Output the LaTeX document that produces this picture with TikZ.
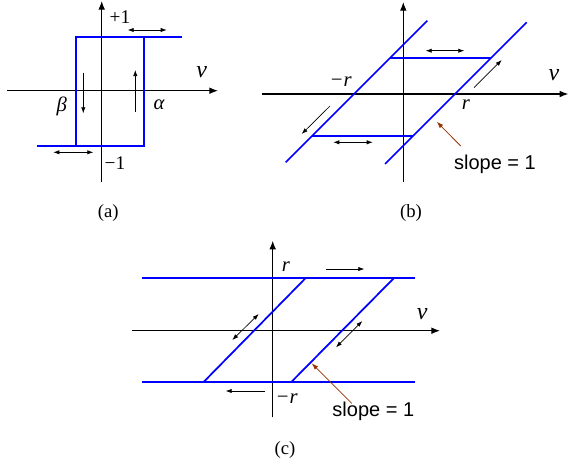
\documentclass[tikz,border=0pt]{standalone}
\usepackage{fontspec}
\setmainfont{Liberation Serif}
\newfontfamily\sansf{Liberation Sans}
\usetikzlibrary{arrows.meta}
\definecolor{curveblue}{RGB}{0,0,255}
\definecolor{notebrown}{RGB}{153,51,0}
\begin{document}
\begin{tikzpicture}[x=0.75pt,y=-0.75pt,
 axis/.style={line width=0.8pt,-{Latex[length=6.5pt,width=5pt]}},
 curve/.style={curveblue,line width=1.3pt},
 motion/.style={line width=0.5pt,-{Latex[length=4.5pt,width=3.2pt]}},
 bimotion/.style={line width=0.5pt,{Latex[length=4.5pt,width=3.2pt]}-{Latex[length=4.5pt,width=3.2pt]}},
 pointer/.style={notebrown,line width=0.6pt,-{Latex[length=5pt,width=3.5pt]}},
 lbl/.style={inner sep=0pt,font=\fontsize{14.5}{17}\selectfont},
 mlbl/.style={inner sep=0pt,font=\fontsize{15.5}{18}\selectfont\itshape},
 vlbl/.style={inner sep=0pt,font=\fontsize{18}{20}\selectfont\itshape},
 note/.style={inner sep=0pt,font=\sansf\fontsize{15}{18}\selectfont},
 captionlbl/.style={inner sep=0pt,font=\fontsize{14}{16}\selectfont}]
\useasboundingbox (0,0) rectangle (570,465);
% ---------------- panel (a)
\coordinate (aYb) at (101.7,182);
\coordinate (aYt) at (101.7,1);
\coordinate (aXl) at (7,90.7);
\coordinate (aXr) at (218,90.7);
\draw[axis] (aYb) -- (aYt);
\draw[axis] (aXl) -- (aXr);
\coordinate (aB1) at (36.7,146);
\coordinate (aB2) at (76,146);
\coordinate (aB3) at (144.3,146);
\coordinate (aT1) at (76,36.7);
\coordinate (aT2) at (144.3,36.7);
\coordinate (aT3) at (182,36.7);
\draw[curve] (aB1) -- (aB3) -- (aT2);
\draw[curve] (aB2) -- (aT1) -- (aT3);
\coordinate (aD1) at (127.7,30);
\coordinate (aD2) at (166.7,30);
\draw[bimotion] (aD1) -- (aD2);
\coordinate (aE1) at (53.3,152.3);
\coordinate (aE2) at (93.3,152.3);
\draw[bimotion] (aE1) -- (aE2);
\coordinate (aF1) at (83.3,72.7);
\coordinate (aF2) at (83.3,113.3);
\draw[motion] (aF1) -- (aF2);
\coordinate (aG1) at (135.3,111.7);
\coordinate (aG2) at (135.3,70);
\draw[motion] (aG1) -- (aG2);
\node[lbl] (aplus) at (120,17) {+1};
\node[lbl] (aminus) at (115,163) {−1};
\node[mlbl] (abeta) at (61.7,106) {β};
\node[mlbl] (aalpha) at (159,105) {α};
\node[vlbl] (av) at (201.7,72) {v};
\node[captionlbl] (acap) at (108.3,212.7) {(a)};
% ---------------- panel (b)
\coordinate (bYb) at (403.3,181.7);
\coordinate (bYt) at (403.3,2);
\coordinate (bXl) at (262.3,94);
\coordinate (bXr) at (568.3,94);
\draw[axis] (bYb) -- (bYt);
\draw[axis] (bXl) -- (bXr);
\coordinate (bL1) at (285.7,162.3);
\coordinate (bL2) at (427.3,20.7);
\coordinate (bR1) at (385,164);
\coordinate (bR2) at (526.7,22.3);
\draw[curve] (bL1) -- (bL2);
\draw[curve] (bR1) -- (bR2);
\coordinate (bH1) at (389.7,58.3);
\coordinate (bH2) at (490.7,58.3);
\draw[curve] (bH1) -- (bH2);
\coordinate (bK1) at (312.3,135.7);
\coordinate (bK2) at (413.3,135.7);
\draw[curve] (bK1) -- (bK2);
\coordinate (bD1) at (425.7,50.7);
\coordinate (bD2) at (464.3,50.7);
\draw[bimotion] (bD1) -- (bD2);
\coordinate (bE1) at (333.3,142.3);
\coordinate (bE2) at (372.7,142.3);
\draw[bimotion] (bE1) -- (bE2);
\coordinate (bF1) at (474,87.7);
\coordinate (bF2) at (501.7,60);
\draw[motion] (bF1) -- (bF2);
\coordinate (bG1) at (330,106);
\coordinate (bG2) at (301.7,134);
\draw[motion] (bG1) -- (bG2);
\node[mlbl] (bmr) at (340.7,81.7) {−r};
\node[mlbl] (br) at (466,104.3) {r};
\node[vlbl] (bv) at (554,75.5) {v};
\node[note] (bslope) at (495,164.3) {slope = 1};
\coordinate (bP1) at (460.7,146);
\coordinate (bP2) at (436.7,121.7);
\draw[pointer] (bP1) -- (bP2);
\node[captionlbl] (bcap) at (411,212.7) {(b)};
% ---------------- panel (c)
\coordinate (cYb) at (272.7,417.3);
\coordinate (cYt) at (272.7,240.7);
\coordinate (cXl) at (131.7,330.7);
\coordinate (cXr) at (440,330.7);
\draw[axis] (cYb) -- (cYt);
\draw[axis] (cXl) -- (cXr);
\coordinate (cT1) at (141.7,277.7);
\coordinate (cT2) at (415,277.7);
\coordinate (cB1) at (141.7,382.3);
\coordinate (cB2) at (415,382.3);
\draw[curve] (cT1) -- (cT2);
\draw[curve] (cB1) -- (cB2);
\coordinate (cL1) at (203.3,382.3);
\coordinate (cL2) at (306,277.7);
\coordinate (cR1) at (291,382.3);
\coordinate (cR2) at (394.3,277.7);
\draw[curve] (cL1) -- (cL2);
\draw[curve] (cR1) -- (cR2);
\coordinate (cD1) at (325.7,269);
\coordinate (cD2) at (364.3,269);
\draw[motion] (cD1) -- (cD2);
\coordinate (cE1) at (265,391);
\coordinate (cE2) at (225.7,391);
\draw[motion] (cE1) -- (cE2);
\coordinate (cF1) at (232.3,340);
\coordinate (cF2) at (258.7,314);
\draw[bimotion] (cF1) -- (cF2);
\coordinate (cG1) at (336,347.3);
\coordinate (cG2) at (362.3,321);
\draw[bimotion] (cG1) -- (cG2);
\node[mlbl] (cr) at (286,266.7) {r};
\node[mlbl] (cmr) at (286.7,398.3) {−r};
\node[vlbl] (cv) at (422.3,314.5) {v};
\node[note] (cslope) at (373.3,411.7) {slope = 1};
\coordinate (cP1) at (351.7,403.3);
\coordinate (cP2) at (311.7,363.3);
\draw[pointer] (cP1) -- (cP2);
\node[captionlbl] (ccap) at (285,450) {(c)};
\end{tikzpicture}
\end{document}
